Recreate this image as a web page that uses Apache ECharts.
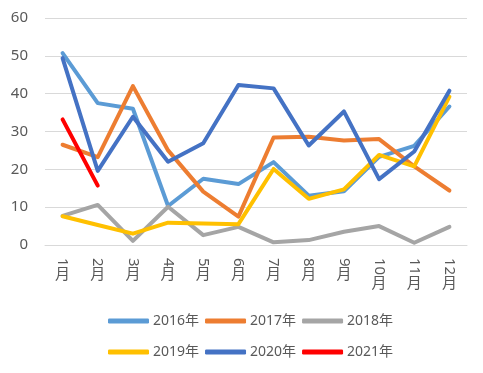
<!DOCTYPE html>
<html>
<head>
<meta charset="utf-8">
<script src="https://cdn.jsdelivr.net/npm/echarts@6/dist/echarts.min.js"></script>
<style>html,body{margin:0;padding:0;background:#fff}#c{width:483px;height:373px}</style>
</head>
<body>
<div id="c"></div>
<script>
var categories = ['1月','2月','3月','4月','5月','6月','7月','8月','9月','10月','11月','12月'];
var yTicks = [0, 10, 20, 30, 40, 50, 60];
var s2016 = [50.7, 37.5, 36.0, 10.3, 17.5, 16.1, 21.9, 13.0, 14.2, 23.3, 26.2, 36.6];
var s2017 = [26.5, 23.2, 42.0, 25.0, 14.1, 7.5, 28.4, 28.6, 27.6, 28.0, 20.8, 14.4];
var s2018 = [7.7, 10.6, 1.1, 10.1, 2.6, 4.8, 0.7, 1.3, 3.5, 5.0, 0.6, 4.8];
var s2019 = [7.6, 5.3, 3.0, 5.9, 5.7, 5.5, 20.1, 12.2, 14.7, 23.8, 20.8, 39.2];
var s2020 = [49.4, 19.6, 33.9, 22.0, 26.9, 42.3, 41.4, 26.3, 35.3, 17.4, 24.7, 40.8];
var s2021 = [33.2, 15.7, null, null, null, null, null, null, null, null, null, null];
var seriesNames = ['2016年','2017年','2018年','2019年','2020年','2021年'];
var colors = ['#5B9BD5','#ED7D31','#A5A5A5','#FFC000','#4472C4','#FF0000'];
var allData = [s2016, s2017, s2018, s2019, s2020, s2021];

var FONT = '"Noto Sans", "Noto Sans CJK SC", sans-serif';
var TXT = '#595959';

var chart = echarts.init(document.getElementById('c'));
var series = seriesNames.map(function (n, i) {
  return {
    name: n, type: 'line', data: allData[i], showSymbol: false, symbol: 'none',
    connectNulls: false, xAxisIndex: 0,
    lineStyle: { color: colors[i], width: 4, cap: 'round', join: 'round' },
    itemStyle: { color: colors[i] }
  };
});
var legendCommon = {
  left: 108, padding: 0, itemWidth: 41, itemHeight: 5, itemGap: 6, icon: 'roundRect',
  textStyle: { color: TXT, fontSize: 14, fontFamily: FONT, padding: [0, 0, 0, -1] }
};
chart.setOption({
  animation: false,
  backgroundColor: '#fff',
  grid: { left: 45, right: 16, top: 18, bottom: 128 },
  legend: [
    Object.assign({ top: 314, data: seriesNames.slice(0, 3) }, legendCommon),
    Object.assign({ top: 345, data: seriesNames.slice(3) }, legendCommon)
  ],
  xAxis: [{
    type: 'category', data: categories, boundaryGap: true, position: 'bottom',
    axisLine: { show: true, lineStyle: { color: '#D9D9D9', width: 1 } },
    axisTick: { show: false },
    axisLabel: {
      rotate: -90, margin: 13, color: TXT, fontSize: 15, fontFamily: FONT,
      interval: 0,
      formatter: function (v) { return v.replace('月', ''); }
    }
  }, {
    type: 'category', data: categories, boundaryGap: true, position: 'bottom',
    axisLine: { show: false }, axisTick: { show: false }, splitLine: { show: false },
    axisLabel: {
      margin: 22, color: TXT, fontSize: 15, fontFamily: FONT, interval: 0,
      formatter: function (v) {
        return v.length > 2 ? '{b|月}' : '{a|月}';
      },
      rich: {
        a: { color: TXT, fontSize: 15, fontFamily: FONT },
        b: { color: TXT, fontSize: 15, fontFamily: FONT, padding: [9, 0, 0, 0] }
      }
    }
  }],
  yAxis: {
    type: 'value', min: yTicks[0], max: yTicks[yTicks.length - 1], interval: 10,
    axisLine: { show: false }, axisTick: { show: false },
    axisLabel: { color: TXT, fontSize: 15, fontFamily: FONT, margin: 17 },
    splitLine: { lineStyle: { color: '#D9D9D9', width: 1 } }
  },
  series: series
});
</script>
</body>
</html>
